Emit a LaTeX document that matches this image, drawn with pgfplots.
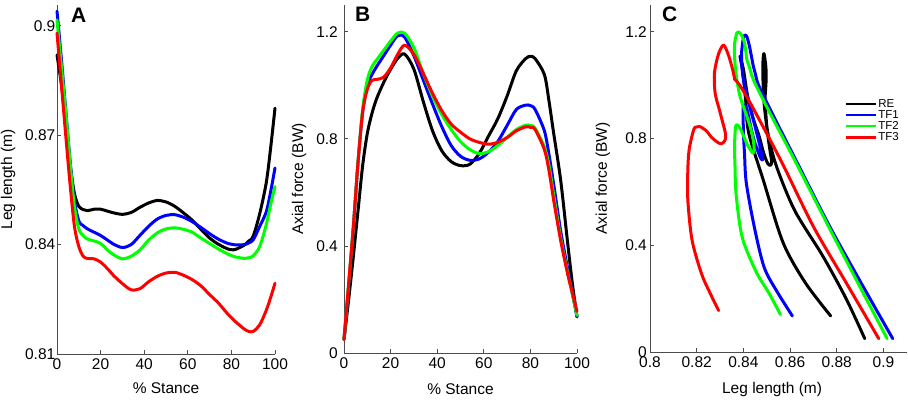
\documentclass[border=0pt]{standalone}
\usepackage{pgfplots}
\pgfplotsset{compat=1.18}
\usepackage{pgfplotstable}
\usepackage{fontspec}
\setmainfont{Liberation Sans}
\newcommand\fs{\fontsize{15.5}{18.6}\selectfont}

% t = % stance, L = leg length (m), F = axial force (BW)
\pgfplotstableread{
t L F
0 0.892 0.05
2 0.884 0.20
4 0.874 0.36
6 0.862 0.53
8 0.854 0.70
10 0.8505 0.82
12 0.8496 0.895
14 0.8493 0.95
17 0.8497 1.01
20 0.8497 1.06
23 0.8492 1.10
26 0.8487 1.117
30 0.8483 1.06
34 0.8488 0.94
38 0.8502 0.83
42 0.8514 0.755
46 0.8521 0.715
50 0.8517 0.70
54 0.8505 0.705
58 0.8487 0.745
62 0.8467 0.81
66 0.8442 0.875
70 0.8418 0.96
74 0.8401 1.055
78 0.8389 1.10
80 0.8386 1.108
82 0.8387 1.10
86 0.8399 1.04
88 0.8410 0.94
90 0.8423 0.82
93 0.8485 0.645
96 0.8570 0.41
98 0.8665 0.26
100 0.8774 0.135
}\RE

\pgfplotstableread{
t L F
0 0.904 0.05
2 0.891 0.25
4 0.877 0.47
6 0.863 0.71
8 0.852 0.90
10 0.8465 1.00
12 0.8452 1.04
14 0.8443 1.07
17 0.8434 1.11
20 0.8425 1.15
23 0.8413 1.185
26 0.8401 1.18
30 0.8392 1.11
34 0.8400 1.02
38 0.8425 0.93
42 0.8450 0.845
46 0.8470 0.775
50 0.8480 0.735
54 0.8482 0.72
58 0.8475 0.725
62 0.8463 0.75
66 0.8447 0.79
70 0.8430 0.85
74 0.8415 0.91
78 0.8404 0.926
80 0.8401 0.924
82 0.8399 0.91
86 0.8400 0.83
88 0.8405 0.74
90 0.8413 0.63
93 0.8450 0.455
96 0.8490 0.315
98 0.8545 0.225
100 0.861 0.135
}\TFone

\pgfplotstableread{
t L F
0 0.9016 0.05
2 0.889 0.26
4 0.8765 0.47
6 0.8625 0.71
8 0.8505 0.91
10 0.8443 1.02
12 0.8425 1.07
14 0.8415 1.095
17 0.8410 1.13
20 0.8403 1.165
23 0.8386 1.195
26 0.8372 1.195
30 0.8361 1.14
34 0.8368 1.045
38 0.8385 0.96
42 0.8412 0.89
46 0.8432 0.835
50 0.8443 0.79
54 0.8446 0.76
58 0.8442 0.745
62 0.8434 0.752
66 0.8418 0.775
70 0.8403 0.805
74 0.8388 0.835
78 0.8375 0.851
80 0.8370 0.85
82 0.8366 0.84
86 0.8362 0.77
88 0.8364 0.70
90 0.8369 0.59
93 0.8395 0.43
96 0.8455 0.30
98 0.8510 0.22
100 0.8559 0.14
}\TFtwo

\pgfplotstableread{
t L F
0 0.898 0.05
2 0.884 0.26
4 0.870 0.47
6 0.8565 0.71
8 0.845 0.90
10 0.8395 0.985
12 0.8368 1.018
14 0.8362 1.022
17 0.8361 1.03
20 0.8352 1.065
23 0.8335 1.115
26 0.8315 1.15
30 0.8293 1.115
34 0.8276 1.045
38 0.8279 0.97
42 0.8298 0.905
46 0.8313 0.855
50 0.8322 0.825
54 0.8324 0.80
58 0.8316 0.787
62 0.8304 0.78
66 0.8287 0.787
70 0.8263 0.805
74 0.8240 0.83
78 0.8212 0.845
80 0.8200 0.843
82 0.8188 0.835
86 0.8168 0.76
88 0.8162 0.68
90 0.8162 0.57
93 0.8180 0.42
96 0.8220 0.295
98 0.8255 0.225
100 0.8294 0.155
}\TFthree

\pgfplotsset{
  panel/.style={
    scale only axis, anchor=south west,
    axis x line*=bottom, axis y line*=left,
    axis line style={black!70, line width=0.8pt, -},
    tick align=inside, major tick length=4pt,
    tick style={black!70, line width=0.8pt},
    /pgf/number format/assume math mode=true,
    scaled ticks=false,
    tick label style={font=\fs},
    label style={font=\fs},
    xticklabel style={inner sep=4.5pt},
    clip=false,
    every axis plot/.append style={line width=3pt, line join=round, line cap=round, smooth, tension=0.5},
  }
}

\begin{document}
\begin{tikzpicture}
\path[use as bounding box] (0pt,0pt) rectangle (908pt,400pt);

% Panel A
\begin{axis}[panel, at={(57pt,46pt)}, width=218pt, height=349pt,
  xmin=0, xmax=100, ymin=0.81, ymax=0.9057,
  xtick={0,20,40,60,80,100}, ytick={0.81,0.84,0.87,0.9},
  yticklabel style={inner sep=1.5pt},
  xlabel={\% Stance}, ylabel={Leg length (m)},
  xlabel style={at={(rel axis cs:0.5,0)}, anchor=base, yshift=-39pt},
  ylabel style={at={(rel axis cs:-0.2248,0.5)}, anchor=center}]
\addplot[black] table[x=t,y=L] {\RE};
\addplot[blue] table[x=t,y=L] {\TFone};
\addplot[green] table[x=t,y=L] {\TFtwo};
\addplot[red] table[x=t,y=L] {\TFthree};
\end{axis}

% Panel B
\begin{axis}[panel, at={(344pt,47pt)}, width=233pt, height=348pt,
  xmin=0, xmax=100, ymin=0, ymax=1.3,
  xtick={0,20,40,60,80,100}, ytick={0,0.4,0.8,1.2},
  yticklabel style={inner sep=6pt},
  xlabel={\% Stance}, ylabel={Axial force (BW)},
  xlabel style={at={(rel axis cs:0.5,0)}, anchor=base, yshift=-41pt},
  ylabel style={at={(rel axis cs:-0.193,0.5)}, anchor=center}]
\addplot[black] table[x=t,y=F] {\RE};
\addplot[blue] table[x=t,y=F] {\TFone};
\addplot[green] table[x=t,y=F] {\TFtwo};
\addplot[red] table[x=t,y=F] {\TFthree};
\end{axis}

% Panel C
\begin{axis}[panel, at={(650pt,48pt)}, width=257pt, height=347pt,
  xmin=0.8, xmax=0.9101, ymin=0, ymax=1.3,
  xtick={0.8,0.82,0.84,0.86,0.88,0.9}, ytick={0,0.4,0.8,1.2},
  yticklabel style={inner sep=3pt},
  xlabel={Leg length (m)}, ylabel={Axial force (BW)},
  xlabel style={at={(rel axis cs:0.475,0)}, anchor=base, yshift=-41pt},
  ylabel style={at={(rel axis cs:-0.183,0.5)}, anchor=center},
  legend style={draw=none, fill=none, at={(axis cs:0.8835,0.95)}, anchor=north west,
    font=\fontsize{11.5}{12}\selectfont, inner sep=0pt, row sep=0pt,
    nodes={inner sep=0.8pt}},
  legend cell align=left,
  legend image code/.code={\draw[#1, line width=2.4pt, line cap=butt] (0pt,0pt) -- (30pt,0pt);}]
\addplot[black] table[x=L,y=F] {\RE};
\addplot[blue] table[x=L,y=F] {\TFone};
\addplot[green] table[x=L,y=F] {\TFtwo};
\addplot[red] table[x=L,y=F] {\TFthree};
\legend{RE,TF1,TF2,TF3}
\end{axis}

\node[anchor=base west, inner sep=0pt, font=\fontsize{21}{21}\selectfont\bfseries] at (71pt,377pt) {A};
\node[anchor=base west, inner sep=0pt, font=\fontsize{21}{21}\selectfont\bfseries] at (355pt,378pt) {B};
\node[anchor=base west, inner sep=0pt, font=\fontsize{21}{21}\selectfont\bfseries] at (662pt,378pt) {C};
\end{tikzpicture}
\end{document}
